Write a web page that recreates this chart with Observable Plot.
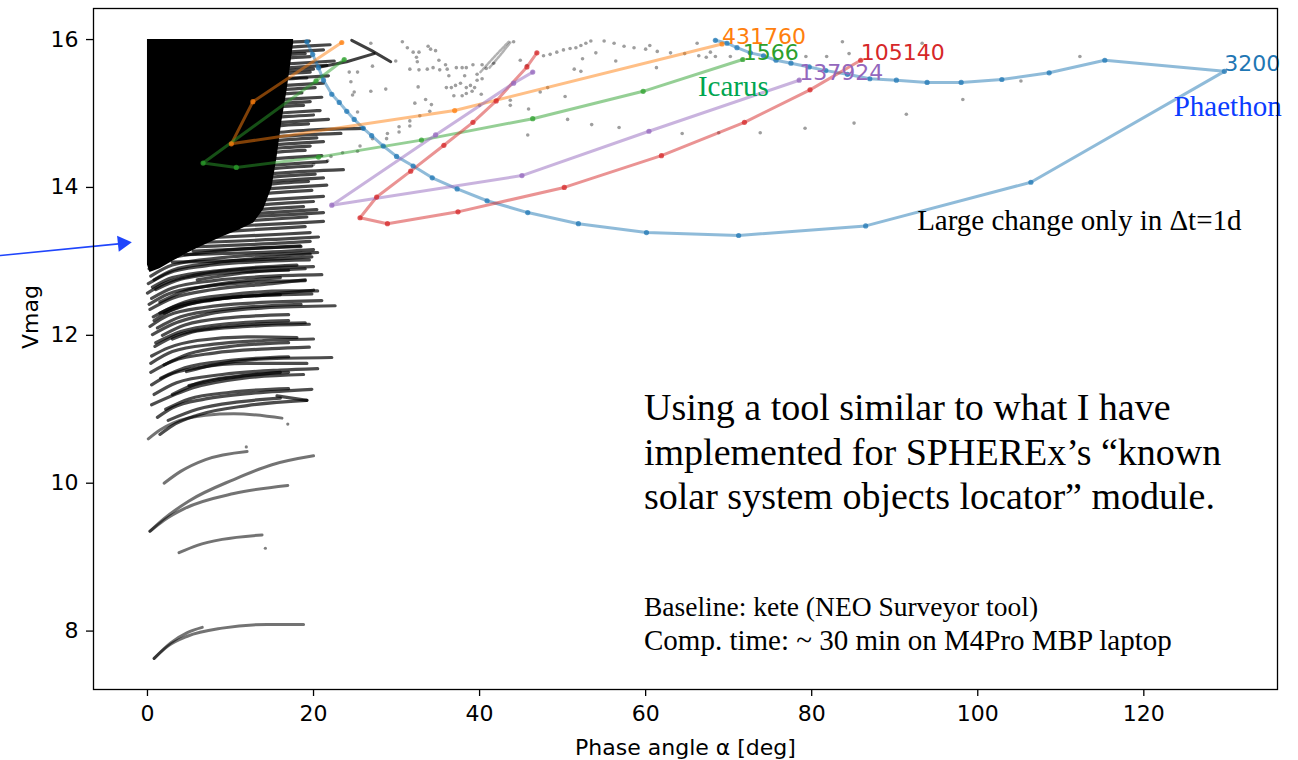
<!DOCTYPE html>
<html><head><meta charset="utf-8">
<script src="https://cdn.jsdelivr.net/npm/d3@7"></script>
<script src="https://cdn.jsdelivr.net/npm/@observablehq/plot@0.6"></script>
<style>html,body{margin:0;padding:0;background:#fff;} #chart svg{display:block;}</style>
</head><body><div id="chart"></div>
<script>
// ---------- axes ----------
const xTicks = [0, 20, 40, 60, 80, 100, 120];
const yTicks = [8, 10, 12, 14, 16];
const xLabel = "Phase angle α [deg]";
const yLabel = "Vmag";

// ---------- highlighted objects (phase angle deg, Vmag) ----------
const seriesNames = ["3200", "431760", "1566", "105140", "137924"];
const seriesColors = ["#1f77b4", "#ff7f0e", "#2ca02c", "#d62728", "#9467bd"];
const obj3200 = [[68.4,15.99],[69.8,15.95],[71.0,15.89],[72.6,15.82],[74.2,15.78],[75.7,15.72],[77.5,15.68],[79.7,15.63],[81.7,15.58],[84.3,15.53],[87.0,15.47],[90.2,15.45],[93.9,15.42],[98.0,15.42],[102.9,15.46],[108.6,15.55],[115.3,15.72],[129.7,15.57],[106.4,14.07],[86.5,13.48],[71.2,13.35],[60.1,13.39],[51.9,13.51],[45.8,13.66],[40.9,13.82],[37.3,13.98],[34.3,14.13],[32.0,14.29],[30.0,14.42],[28.4,14.56],[27.0,14.70],[26.0,14.80],[24.9,14.92],[24.0,15.03],[23.1,15.15],[22.2,15.26],[21.2,15.45],[20.6,15.62],[19.9,15.80],[19.2,15.97]];
const obj431760 = [[23.4,15.96],[12.7,15.16],[10.1,14.59],[37.0,15.04],[69.2,15.94]];
const obj1566 = [[23.7,15.73],[20.3,15.44],[6.7,14.33],[10.7,14.27],[20.6,14.41],[33.0,14.64],[46.4,14.93],[59.7,15.30],[71.7,15.73]];
const obj105140 = [[46.9,15.82],[45.7,15.63],[42.0,15.17],[39.2,14.88],[35.7,14.57],[31.7,14.22],[27.6,13.87],[25.6,13.59],[28.9,13.51],[37.4,13.67],[50.2,14.00],[61.9,14.43],[71.9,14.88],[79.8,15.32],[85.9,15.72]];
const obj137924 = [[46.4,15.56],[44.1,15.41],[34.7,14.71],[22.2,13.76],[45.1,14.16],[60.4,14.76],[78.5,15.45]];
const seriesPts = [obj3200, obj431760, obj1566, obj105140, obj137924];

// ---------- dense population: solid core (deg, lower Vmag, upper Vmag) ----------
const coreX  = [0.0, 0.3, 1.5, 3.0, 5.0, 6.5, 9.0, 11.0, 12.8, 14.0, 15.0, 15.6, 16.2, 16.8, 17.3, 17.6];
const coreLo = [12.95,12.85,12.9,13.0,13.12,13.2,13.33,13.42,13.52,13.7,14.0,14.4,14.9,15.3,15.7,15.95];
const coreHi = [16.0,16.0,16.0,16.0,16.0,16.0,16.0,16.0,16.0,16.0,16.0,16.0,16.0,16.0,16.0,16.0];

// ---------- individual tracks of the population ----------
const faintTracks = [
  [[0.8,7.63],[2.5,7.8],[4.8,7.93],[9.0,8.04],[14.4,8.09],[18.8,8.09]],
  [[0.8,7.63],[2.8,7.84],[4.8,7.98],[6.6,8.05]],
  [[3.8,9.06],[6.0,9.16],[9.0,9.24],[13.8,9.30]],
  [[0.3,9.35],[2.0,9.52],[5.0,9.76],[10.4,10.05],[15.0,10.25],[20.0,10.37]],
  [[0.3,9.35],[2.0,9.5],[4.5,9.66],[10.4,9.86],[16.9,9.97]],
  [[2.0,10.0],[4.0,10.16],[7.0,10.32],[12.0,10.43]],
  [[0.1,10.6],[1.5,10.72],[3.2,10.82],[7.0,10.92],[10.4,10.94],[16.2,10.88]]
];
const denseTracks = [
  [[1.5,10.66],[3.0,10.78],[6.0,10.92],[12.0,11.05],[19.2,11.12]],
  [[1.2,10.89],[3.0,11.02],[7.0,11.14],[13.0,11.22],[19.8,11.27]],
  [[0.5,11.06],[5.5,11.29],[11.6,11.42],[18.8,11.47]],
  [[15.6,11.18],[19.2,11.12]],
  [[0.5,11.33],[2.5,11.46],[6.0,11.56],[12.0,11.62],[19.2,11.62]],
  [[4.7,11.51],[8.0,11.6],[14.0,11.68],[22.2,11.70]],
  [[0.5,11.72],[2.5,11.83],[6.0,11.93],[12.0,11.98],[18.0,11.97]],
  [[0.6,12.01],[3.0,12.15],[7.0,12.28],[14.0,12.37],[22.6,12.40]],
  [[0.8,12.2],[3.0,12.35],[8.0,12.48],[14.0,12.55],[20.0,12.61]],
  [[0.0,12.57],[2.0,12.7],[6.0,12.82],[12.0,12.9],[20.0,12.93]],
  [[1.0,11.9],[4.0,12.05],[9.0,12.15],[17.0,12.2]],
  [[0.3,12.35],[3.0,12.5],[8.0,12.62],[15.0,12.7],[19.0,12.75]],
  [[1.5,12.45],[4.0,12.58],[9.0,12.7],[16.0,12.78]],
  [[2.0,11.6],[5.0,11.75],[10.0,11.85],[17.0,11.9]],
  [[3.0,11.2],[6.0,11.35],[11.0,11.45],[17.0,11.5]],
  [[2.5,10.85],[6.0,11.0],[11.0,11.1],[16.0,11.15]],
  [[0.8,12.75],[3.0,12.88],[8.0,12.98],[14.0,13.05],[19.6,13.1]],
  [[0.4,11.5],[3.0,11.65],[8.0,11.76],[15.0,11.82],[19.5,11.84]],
  [[1.2,12.1],[4.0,12.25],[10.0,12.36],[18.5,12.42]],
  [[0.6,12.65],[3.0,12.78],[9.0,12.88],[18.0,12.95]],
  [[2.0,12.3],[5.0,12.42],[11.0,12.52],[19.8,12.56]],
  [[3.0,11.95],[6.0,12.06],[12.0,12.12],[19.5,12.15]],
  [[5.0,11.32],[9.0,11.41],[16.0,11.5]],
  [[6.0,12.75],[12.0,12.85],[19.0,12.9]],
  [[0.2,12.9],[2.0,13.02],[7.0,13.12],[13.0,13.18],[18.5,13.2]],
  [[0.4,12.8],[3.0,12.95],[9.0,13.05],[16.0,13.1],[20.5,13.12]],
  [[0.1,12.7],[2.5,12.84],[7.0,12.94],[14.0,13.0],[19.5,13.02]],
  [[1.0,12.62],[4.0,12.76],[10.0,12.85],[17.0,12.88]],
  [[0.5,12.5],[3.0,12.64],[8.0,12.74],[15.0,12.8],[21.0,12.82]],
  [[0.2,12.42],[2.5,12.56],[7.0,12.66],[13.0,12.72],[19.0,12.74]],
  [[1.5,12.3],[4.5,12.45],[10.0,12.55],[17.0,12.6],[20.5,12.6]],
  [[0.7,12.25],[3.5,12.4],[9.0,12.5],[16.0,12.55]],
  [[0.3,12.12],[2.5,12.27],[7.0,12.38],[13.0,12.44],[21.0,12.47]],
  [[1.8,12.0],[4.5,12.14],[10.0,12.24],[17.0,12.28]],
  [[0.9,11.85],[3.5,12.0],[8.0,12.1],[15.0,12.16],[19.0,12.17]],
  [[0.4,11.62],[3.0,11.78],[8.0,11.88],[14.0,11.93],[20.0,11.95]],
  [[1.6,11.42],[4.5,11.56],[10.0,11.66],[17.0,11.71]],
  [[0.8,11.2],[3.5,11.36],[9.0,11.47],[16.0,11.53],[20.5,11.55]],
  [[2.2,11.0],[5.0,11.14],[10.0,11.23],[17.0,11.28]]
];
const fringeTracks = [
  [[12.5,15.92],[16.5,15.96],[19.5,15.98]],
  [[12.5,15.86],[19.0,15.91],[22.0,15.93]],
  [[12.5,15.79],[18.2,15.84],[21.2,15.86]],
  [[12.5,15.74],[16.0,15.79],[19.0,15.81]],
  [[12.5,15.70],[16.6,15.75],[19.6,15.77]],
  [[12.5,15.64],[19.5,15.69],[22.5,15.71]],
  [[12.5,15.58],[18.6,15.63],[21.6,15.65]],
  [[12.5,15.53],[17.0,15.58],[20.0,15.60]],
  [[12.5,15.49],[16.6,15.54],[19.6,15.56]],
  [[12.5,15.44],[18.8,15.49],[21.8,15.51]],
  [[12.5,15.41],[16.2,15.46],[19.2,15.48]],
  [[12.5,15.34],[18.2,15.39],[21.2,15.41]],
  [[12.5,15.28],[17.2,15.33],[20.2,15.35]],
  [[12.5,15.21],[15.6,15.26],[18.6,15.28]],
  [[12.5,15.15],[18.0,15.20],[21.0,15.22]],
  [[12.5,15.09],[16.6,15.14],[19.6,15.16]],
  [[12.5,15.04],[15.8,15.09],[18.8,15.11]],
  [[12.5,14.97],[17.8,15.02],[20.8,15.04]],
  [[12.5,14.91],[17.0,14.96],[20.0,14.98]],
  [[12.5,14.85],[18.8,14.90],[21.8,14.92]],
  [[12.5,14.79],[16.4,14.84],[19.4,14.86]],
  [[13.5,14.72],[20.0,14.78],[26.0,14.80]],
  [[12.5,14.66],[19.0,14.71],[23.3,14.73]],
  [[12.5,14.60],[17.4,14.65],[20.4,14.67]],
  [[12.5,14.55],[18.2,14.60],[21.2,14.62]],
  [[12.5,14.49],[16.6,14.54],[19.6,14.56]],
  [[12.5,14.43],[16.0,14.48],[19.0,14.50]],
  [[12.5,14.36],[18.0,14.41],[21.0,14.43]],
  [[12.5,14.28],[18.6,14.33],[21.6,14.35]],
  [[12.5,14.22],[16.8,14.27],[19.8,14.29]],
  [[12.0,14.16],[19.5,14.22],[23.6,14.24]],
  [[12.0,14.11],[17.2,14.16],[20.2,14.18]],
  [[12.0,14.06],[18.2,14.11],[21.2,14.13]],
  [[12.0,14.01],[16.4,14.06],[19.4,14.08]],
  [[11.5,13.96],[18.6,14.01],[21.6,14.03]],
  [[11.5,13.89],[16.8,13.94],[19.8,13.96]],
  [[11.0,13.81],[18.2,13.86],[21.2,13.88]],
  [[11.0,13.74],[17.0,13.79],[20.0,13.81]],
  [[10.5,13.67],[15.8,13.72],[18.8,13.74]],
  [[10.5,13.63],[17.4,13.68],[20.4,13.70]],
  [[10.0,13.59],[18.2,13.64],[21.2,13.66]],
  [[9.5,13.53],[16.2,13.58],[19.2,13.60]],
  [[9.0,13.47],[18.2,13.52],[21.2,13.54]],
  [[8.5,13.40],[16.0,13.45],[19.0,13.47]],
  [[7.5,13.32],[16.6,13.37],[19.6,13.39]],
  [[7.0,13.26],[17.6,13.31],[20.6,13.33]],
  [[6.0,13.20],[16.6,13.25],[19.6,13.27]],
  [[5.5,13.14],[15.4,13.19],[18.4,13.21]],
  [[4.5,13.09],[17.0,13.14],[20.0,13.16]],
  [[3.0,12.99],[16.8,13.04],[19.8,13.06]]
];
const darkTrails = [
  [[24.6,15.99],[27.0,15.85],[29.3,15.70]],
  [[20.8,15.63],[24.0,15.70],[27.3,15.81]]
];
const grayStreaks = [
  [[40.1,15.56],[41.8,15.77],[43.5,15.97]],
  [[41.2,15.62],[42.5,15.79],[43.7,15.96]]
];
const isolatedPts = [[14.2,9.12],[11.9,10.49],[16.9,10.80]];

// ---------- sparse faint objects ----------
const sparsePts = [
  [26.9,15.95],[30.7,15.97],[31.3,15.89],[32.0,15.83],[32.7,15.83],[33.8,15.91],[34.1,15.87],[34.7,15.85],
  [32.4,15.76],[32.5,15.70],[31.6,15.60],[32.7,15.59],[33.7,15.60],[34.4,15.62],[35.1,15.72],[35.2,15.59],
  [35.9,15.66],[36.1,15.60],[37.2,15.62],[37.9,15.62],[38.4,15.62],[39.2,15.66],[40.3,15.66],[40.8,15.61],
  [41.7,15.68],[44.1,15.97],[44.9,15.72],[45.7,15.65],[39.7,15.53],[40.3,15.47],[36.3,15.51],[36.0,15.35],
  [36.6,15.35],[37.1,15.38],[37.7,15.41],[38.2,15.51],[38.4,15.35],[38.9,15.38],[39.4,15.35],[39.7,15.45],
  [36.9,15.24],[37.9,15.24],[38.4,15.27],[39.1,15.30],[40.2,15.26],[33.5,15.19],[32.2,15.14],[34.0,15.03],
  [32.8,14.97],[31.6,14.90],[31.6,14.83],[30.3,14.82],[30.3,14.75],[28.9,14.73],[28.8,14.66],[27.1,14.66],
  [25.6,14.56],[25.3,14.49],[23.5,14.47],[22.1,14.42],[21.7,14.36],[20.0,14.31],[24.3,15.56],[25.3,15.56],
  [27.1,15.64],[29.9,15.71],[24.5,15.43],[24.9,15.29],[24.7,15.25],[26.9,15.30],[28.7,15.33],[32.6,15.36],
  [25.3,15.02],[43.7,15.18],[43.7,15.11],[45.9,15.06],[45.8,14.71],[40.0,15.11],[34.2,15.12],
  [47.7,15.78],[48.5,15.80],[49.3,15.83],[50.1,15.86],[50.9,15.88],[51.6,15.89],[52.2,15.92],[52.8,15.95],
  [53.4,15.98],[55.0,15.98],[56.2,15.95],[57.4,15.91],[58.6,15.89],[60.0,15.87],[60.5,15.92],[61.4,15.84],
  [63.0,15.82],[64.7,15.81],[66.2,15.95],[66.4,15.78],[67.3,15.76],[67.8,15.83],[68.4,15.77],[70.2,15.77],
  [52.4,15.74],[54.0,15.82],[56.4,15.71],[51.4,15.60],[52.2,15.57],[61.3,15.62],[47.3,15.29],[48.2,15.35],
  [50.3,15.23],[50.6,14.92],[53.5,14.85],[56.8,14.81],[64.4,14.73],[68.8,14.74],[73.8,14.74],
  [83.7,15.97],[84.5,15.81],[81.8,15.77],[79.3,15.77],[93.3,15.95],[112.3,15.77],[105.2,15.44],[98.2,15.19],
  [91.4,14.99],[85.1,14.87],[79.2,14.80]
];

// ---------- annotations ----------
const serifNotes = [
  {text: "Icarus", x: 66.3, y: 15.23, color: "#00a650", size: 29},
  {text: "Phaethon", x: 123.6, y: 14.96, color: "#0b3cff", size: 29},
  {text: "Large change only in Δt=1d", x: 92.7, y: 13.43, color: "black", size: 29}
];
const bigNoteLines = ["Using a tool similar to what I have", "implemented for SPHEREx’s “known", "solar system objects locator” module."];
const bigNoteY = [10.86, 10.25, 9.65];
const smallNoteLines = ["Baseline: kete (NEO Surveyor tool)", "Comp. time: ~ 30 min on M4Pro MBP laptop"];
const smallNoteY = [8.20, 7.74];
const smallNoteSize = [27.5, 29];
const noteX = 59.8;
const arrowLine = [[-17.7, 13.08], [-3.2, 13.24]];
const arrowTip = [[-3.0, 13.245]];

// ---------- build rows ----------
const toRows = (tracks) => tracks.flatMap((t, i) => t.map(([x, y]) => ({id: i, x, y})));
const coreRows = coreX.map((x, i) => ({x, lo: coreLo[i], hi: coreHi[i]}));
const seriesRows = seriesPts.flatMap((pts, i) => pts.map(([x, y]) => ({name: seriesNames[i], x, y})));
const labelRows = seriesPts.map((pts, i) => { const p = d3.greatest(pts, d => d[0]); return {name: seriesNames[i], x: p[0], y: p[1]}; });
const bigRows = bigNoteLines.map((t, i) => ({text: t, x: noteX, y: bigNoteY[i]}));
const smallRows = smallNoteLines.map((t, i) => ({text: t, x: noteX, y: smallNoteY[i], size: smallNoteSize[i]}));

const serif = "'Liberation Serif', 'Times New Roman', serif";

const chart = Plot.plot({
  width: 1298, height: 760,
  marginLeft: 93, marginRight: 21, marginTop: 8, marginBottom: 71,
  x: {domain: [-6.5, 136.1]},
  y: {domain: [7.21, 16.42]},
  color: {domain: seriesNames, range: seriesColors},
  style: {fontFamily: "'DejaVu Sans', sans-serif", fontSize: "22px", background: "white", color: "black", overflow: "visible"},
  marks: [
    Plot.areaY(coreRows, {x: "x", y1: "lo", y2: "hi", fill: "black"}),
    Plot.line(toRows(faintTracks), {x: "x", y: "y", z: "id", curve: "monotone-x", stroke: "black", strokeOpacity: 0.55, strokeWidth: 3, strokeLinecap: "round"}),
    Plot.line(toRows(denseTracks), {x: "x", y: "y", z: "id", curve: "monotone-x", stroke: "black", strokeOpacity: 0.7, strokeWidth: 3.2, strokeLinecap: "round"}),
    Plot.line(toRows(fringeTracks), {x: "x", y: "y", z: "id", curve: "monotone-x", stroke: "black", strokeOpacity: 0.72, strokeWidth: 3.2, strokeLinecap: "round"}),
    Plot.line(toRows(darkTrails), {x: "x", y: "y", z: "id", stroke: "black", strokeOpacity: 0.75, strokeWidth: 3, strokeLinecap: "round"}),
    Plot.line(toRows(grayStreaks), {x: "x", y: "y", z: "id", stroke: "black", strokeOpacity: 0.3, strokeWidth: 2.5, strokeDasharray: "2.5,1.5"}),
    Plot.dot(isolatedPts, {x: d => d[0], y: d => d[1], r: 1.6, fill: "black", fillOpacity: 0.5, stroke: null}),
    Plot.dot(sparsePts, {x: d => d[0], y: d => d[1], r: 1.8, fill: "black", fillOpacity: 0.38, stroke: null}),
    Plot.line(seriesRows, {x: "x", y: "y", z: "name", stroke: "name", strokeOpacity: 0.5, strokeWidth: 3}),
    Plot.dot(seriesRows, {x: "x", y: "y", fill: "name", fillOpacity: 0.75, r: 2.6, stroke: null}),
    Plot.text(labelRows, {x: "x", y: "y", text: "name", fill: "name", textAnchor: "start", lineAnchor: "bottom", fontSize: 22, fontFamily: "'DejaVu Sans', sans-serif"}),
    Plot.text(serifNotes, {x: "x", y: "y", text: "text", fill: d => d.color, fontSize: d => d.size, textAnchor: "start", lineAnchor: "bottom", fontFamily: serif}),
    Plot.text(bigRows, {x: "x", y: "y", text: "text", fill: "black", fontSize: 38, textAnchor: "start", lineAnchor: "bottom", fontFamily: serif}),
    Plot.text(smallRows, {x: "x", y: "y", text: "text", fill: "black", fontSize: d => d.size, textAnchor: "start", lineAnchor: "bottom", fontFamily: serif}),
    Plot.line(arrowLine, {x: d => d[0], y: d => d[1], stroke: "#1f45fc", strokeWidth: 1.6}),
    Plot.dot(arrowTip, {x: d => d[0], y: d => d[1], symbol: "triangle", r: 6, rotate: 84, fill: "#1f45fc", stroke: null}),
    Plot.frame({stroke: "black", strokeWidth: 1.3}),
    Plot.axisX({ticks: xTicks, tickSize: 7, tickPadding: 9, label: null, strokeWidth: 1.3}),
    Plot.axisY({ticks: yTicks, tickSize: 7, tickPadding: 8, label: null, strokeWidth: 1.3}),
    Plot.text([xLabel], {frameAnchor: "bottom", dy: 58, lineAnchor: "middle", text: d => d, fontSize: 22}),
    Plot.text([yLabel], {frameAnchor: "left", dx: -63, rotate: -90, lineAnchor: "middle", text: d => d, fontSize: 22})
  ]
});
document.getElementById("chart").append(chart);
</script></body></html>
